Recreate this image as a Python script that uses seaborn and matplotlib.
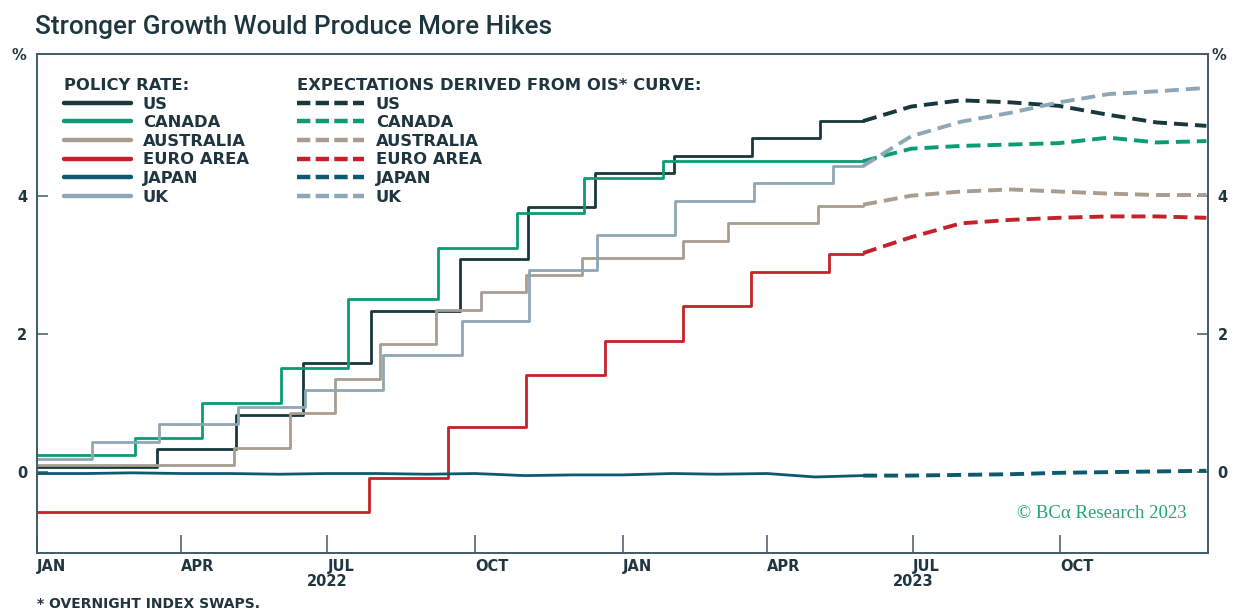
import matplotlib
matplotlib.use("Agg")
import matplotlib.pyplot as plt
import matplotlib.dates as mdates
from matplotlib.lines import Line2D
from matplotlib.transforms import blended_transform_factory
import seaborn as sns
import pandas as pd

# ---------------- data ----------------
countries = ["US", "CANADA", "AUSTRALIA", "EURO AREA", "JAPAN", "UK"]
colors = ["#17393d", "#0b9c73", "#a99d90", "#c4222a", "#0d5a70", "#8ea7b6"]

us_dates = ["2022-01-01", "2022-03-17", "2022-05-05", "2022-06-16", "2022-07-28", "2022-09-22",
            "2022-11-03", "2022-12-15", "2023-02-02", "2023-03-23", "2023-05-04"]
us_rates = [0.08, 0.33, 0.83, 1.58, 2.33, 3.08, 3.83, 4.33, 4.58, 4.83, 5.08]

ca_dates = ["2022-01-01", "2022-03-03", "2022-04-14", "2022-06-02", "2022-07-14", "2022-09-08",
            "2022-10-27", "2022-12-08", "2023-01-26"]
ca_rates = [0.25, 0.50, 1.00, 1.50, 2.50, 3.25, 3.75, 4.25, 4.50]

au_dates = ["2022-01-01", "2022-05-04", "2022-06-08", "2022-07-06", "2022-08-03", "2022-09-07",
            "2022-10-05", "2022-11-02", "2022-12-07", "2023-02-08", "2023-03-08", "2023-05-03"]
au_rates = [0.10, 0.35, 0.85, 1.35, 1.85, 2.35, 2.60, 2.85, 3.10, 3.35, 3.60, 3.85]

eu_dates = ["2022-01-01", "2022-07-27", "2022-09-14", "2022-11-02", "2022-12-21", "2023-02-08",
            "2023-03-22", "2023-05-10"]
eu_rates = [-0.58, -0.09, 0.66, 1.40, 1.90, 2.40, 2.90, 3.15]

jp_dates = ["2022-01-01", "2022-02-01", "2022-03-01", "2022-04-01", "2022-05-01", "2022-06-01",
            "2022-07-01", "2022-08-01", "2022-09-01", "2022-10-01", "2022-11-01", "2022-12-01",
            "2023-01-01", "2023-02-01", "2023-03-01", "2023-04-01", "2023-05-01", "2023-05-31"]
jp_rates = [-0.02, -0.02, -0.01, -0.02, -0.02, -0.03, -0.02, -0.02, -0.03, -0.02, -0.05, -0.04,
            -0.04, -0.02, -0.03, -0.02, -0.07, -0.05]

uk_dates = ["2022-01-01", "2022-02-04", "2022-03-18", "2022-05-06", "2022-06-17", "2022-08-05",
            "2022-09-23", "2022-11-04", "2022-12-16", "2023-02-03", "2023-03-24", "2023-05-12"]
uk_rates = [0.19, 0.44, 0.69, 0.94, 1.19, 1.69, 2.19, 2.93, 3.43, 3.93, 4.18, 4.43]

history_end = "2023-05-31"

ois_dates = ["2023-05-31", "2023-06-30", "2023-07-31", "2023-08-31", "2023-09-30",
             "2023-10-31", "2023-11-30", "2023-12-31"]
us_ois = [5.08, 5.29, 5.38, 5.35, 5.30, 5.17, 5.06, 5.01]
ca_ois = [4.50, 4.68, 4.72, 4.74, 4.76, 4.84, 4.77, 4.79]
au_ois = [3.87, 4.00, 4.06, 4.09, 4.06, 4.03, 4.01, 4.01]
eu_ois = [3.17, 3.40, 3.60, 3.65, 3.68, 3.70, 3.70, 3.68]
jp_ois = [-0.05, -0.05, -0.04, -0.03, -0.01, 0.00, 0.01, 0.02]
uk_ois = [4.43, 4.86, 5.07, 5.20, 5.35, 5.47, 5.51, 5.56]

month_ticks = ["2022-01-01", "2022-04-01", "2022-07-01", "2022-10-01",
               "2023-01-01", "2023-04-01", "2023-07-01", "2023-10-01"]
month_labels = ["JAN", "APR", "JUL", "OCT", "JAN", "APR", "JUL", "OCT"]
year_labels = ["2022", "2023"]
year_label_dates = ["2022-07-01", "2023-07-01"]
y_ticks = [0, 2, 4]

# ---------------- style ----------------
sns.set_theme(style="white")
plt.rcParams['font.family'] = ['DejaVu Sans']
TXT = "#1f3540"
SPINE = "#3e5b64"

fig = plt.figure(figsize=(12.36, 6.13), dpi=100)
fig.patch.set_facecolor("white")
ax = fig.add_axes([37 / 1236, 1 - 553 / 613, (1208 - 37) / 1236, (553 - 54) / 613])

hist = [(us_dates, us_rates), (ca_dates, ca_rates), (au_dates, au_rates),
        (eu_dates, eu_rates), (jp_dates, jp_rates), (uk_dates, uk_rates)]
ois = [us_ois, ca_ois, au_ois, eu_ois, jp_ois, uk_ois]
DASH = (0, (3.6, 1.8))

for i, (name, col) in enumerate(zip(countries, colors)):
    d, r = hist[i]
    if name == "JAPAN":
        df = pd.DataFrame({"date": pd.to_datetime(d), "rate": r})
        sns.lineplot(data=df, x="date", y="rate", ax=ax, color=col, lw=2.0,
                     estimator=None, legend=False)
    else:
        df = pd.DataFrame({"date": pd.to_datetime(d + [history_end]), "rate": r + [r[-1]]})
        sns.lineplot(data=df, x="date", y="rate", ax=ax, color=col, lw=2.0,
                     drawstyle="steps-post", estimator=None, legend=False)
    dfo = pd.DataFrame({"date": pd.to_datetime(ois_dates), "rate": ois[i]})
    sns.lineplot(data=dfo, x="date", y="rate", ax=ax, color=col, lw=2.8,
                 linestyle=DASH, estimator=None, legend=False)

ax.set_xlim(pd.Timestamp("2022-01-01"), pd.Timestamp("2024-01-01"))
ax.set_ylim(-1.17, 6.05)
ax.set_xlabel("")
ax.set_ylabel("")

ax.set_xticks(pd.to_datetime(month_ticks))
ax.set_xticklabels(month_labels, ha="left")
ax.set_yticks(y_ticks)
ax.set_yticklabels([str(v) for v in y_ticks])
ax.tick_params(axis="x", direction="in", length=13, width=1.1, color=SPINE, pad=4,
               labelsize=10.5, labelcolor=TXT, bottom=True)
ax.tick_params(axis="y", direction="in", length=8, width=1.1, color=SPINE, pad=7,
               labelsize=10.5, labelcolor=TXT, left=True, right=True, labelright=True)
for lab in ax.get_xticklabels() + ax.get_yticklabels():
    lab.set_fontweight("bold")
for t in ax.yaxis.get_major_ticks():
    t.label2.set_fontweight("bold")
for s in ax.spines.values():
    s.set_color(SPINE)
    s.set_linewidth(1.4)
ax.grid(False)

# year labels
trans = blended_transform_factory(ax.transData, fig.transFigure)
for yl, yd in zip(year_labels, year_label_dates):
    ax.text(mdates.date2num(pd.Timestamp(yd)), 1 - 581 / 613, yl, transform=trans,
            ha="center", va="center", fontsize=10.5, fontweight="bold", color=TXT)

# legends
lab_kw = dict(frameon=False, prop={"size": 11.8, "weight": "bold"},
              title_fontproperties={"size": 11.8, "weight": "bold"}, handlelength=4.1,
              handletextpad=0.7, labelspacing=0.22, borderpad=0, borderaxespad=0,
              loc="upper left", alignment="left", labelcolor=TXT)
h1 = [Line2D([0], [0], color=c, lw=3.2) for c in colors]
leg1 = ax.legend(h1, countries, title="POLICY RATE:",
                 bbox_to_anchor=((64 - 37) / 1171, (553 - 78) / 499), **lab_kw)
leg1.get_title().set_color(TXT)
ax.add_artist(leg1)
h2 = [Line2D([0], [0], color=c, lw=3.2, linestyle=(0, (3.0, 1.2))) for c in colors]
leg2 = ax.legend(h2, countries, title="EXPECTATIONS DERIVED FROM OIS* CURVE:",
                 bbox_to_anchor=((297 - 37) / 1171, (553 - 78) / 499), **lab_kw)
leg2.get_title().set_color(TXT)

# title, units, notes
fig.text(35 / 1236, 1 - 27 / 613, "Stronger Growth Would Produce More Hikes",
         ha="left", va="center", fontsize=18.8, fontweight="medium", color="#1d3640",
         family=["Roboto", "DejaVu Sans"])
fig.text(19 / 1236, 1 - 55 / 613, "%", ha="center", va="center", fontsize=10.5,
         fontweight="bold", color=TXT)
fig.text(1219 / 1236, 1 - 56 / 613, "%", ha="center", va="center", fontsize=10.5,
         fontweight="bold", color=TXT)
fig.text(37 / 1236, 1 - 604 / 613, "* OVERNIGHT INDEX SWAPS.", ha="left", va="center",
         fontsize=10, fontweight="bold", color=TXT)
fig.text(1187 / 1236, 1 - 514 / 613, "\u00a9 BC\u03b1 Research 2023", ha="right", va="center",
         fontsize=13.5, color="#27a37c", family=["Liberation Serif", "DejaVu Serif"])

fig.savefig("out.png", dpi=100, facecolor="white")
